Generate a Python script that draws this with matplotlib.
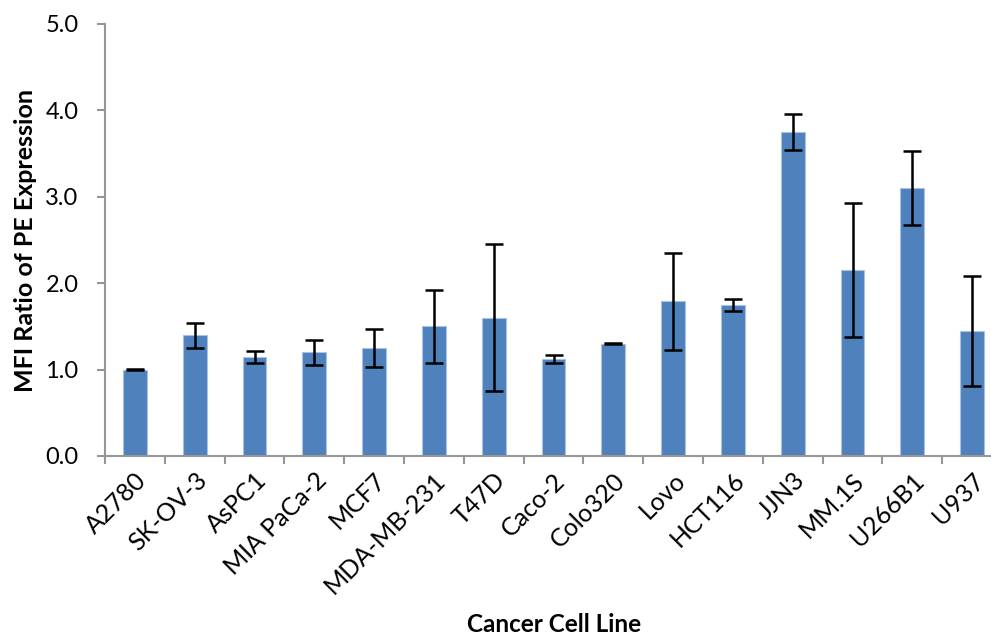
import matplotlib
matplotlib.use("Agg")
import matplotlib.pyplot as plt
import numpy as np

categories = ["A2780", "SK-OV-3", "AsPC1", "MIA PaCa-2", "MCF7", "MDA-MB-231", "T47D",
              "Caco-2", "Colo320", "Lovo", "HCT116", "JJN3", "MM.1S", "U266B1", "U937"]
values = [1.00, 1.40, 1.15, 1.20, 1.25, 1.50, 1.60, 1.12, 1.30, 1.79, 1.75, 3.75, 2.15, 3.10, 1.45]
errors = [0.005, 0.145, 0.07, 0.145, 0.215, 0.42, 0.85, 0.045, 0.005, 0.565, 0.07, 0.21, 0.775, 0.43, 0.635]
yticks = [0.0, 1.0, 2.0, 3.0, 4.0, 5.0]

plt.rcParams['font.family'] = ['Lato', 'DejaVu Sans']

fig = plt.figure(figsize=(9.91, 6.39), dpi=100)
ax = fig.add_axes([105/991, (639-456)/639, (1002-105)/991, (456-24)/639])

x = np.arange(len(categories))
ax.bar(x, values, width=0.40, color="#4F81BD", edgecolor="#A9C2E3", linewidth=0.8, zorder=2)
ax.errorbar(x, values, yerr=errors, fmt='none', ecolor='black', elinewidth=1.8,
            capsize=6.5, capthick=1.8, zorder=3)

ax.set_xlim(-0.5, len(categories) - 0.5)
ax.set_ylim(0, 5)
ax.set_yticks(yticks)
ax.set_yticklabels([f"{v:.1f}" for v in yticks], fontsize=17)

ax.set_xticks(x)
ax.set_xticklabels(categories, rotation=45, ha='right', rotation_mode='anchor', fontsize=18)
ax.tick_params(axis='x', which='major', length=0, pad=9)
ax.set_xticks(np.arange(-0.5, len(categories), 1.0), minor=True)
ax.tick_params(axis='x', which='minor', length=6, width=1.5, color='#969696', direction='out')
ax.tick_params(axis='y', length=6, width=1.5, color='#969696', direction='out', pad=13)

for s in ['top', 'right']:
    ax.spines[s].set_visible(False)
for s in ['left', 'bottom']:
    ax.spines[s].set_color('#969696')
    ax.spines[s].set_linewidth(1.5)

ax.set_ylabel("MFI Ratio of PE Expression", fontsize=18, fontweight='bold', labelpad=6)
fig.text(554/991, 1 - 625/639, "Cancer Cell Line", fontsize=17.5, fontweight='bold',
         ha='center', va='center')

fig.savefig("out.png", dpi=100)
